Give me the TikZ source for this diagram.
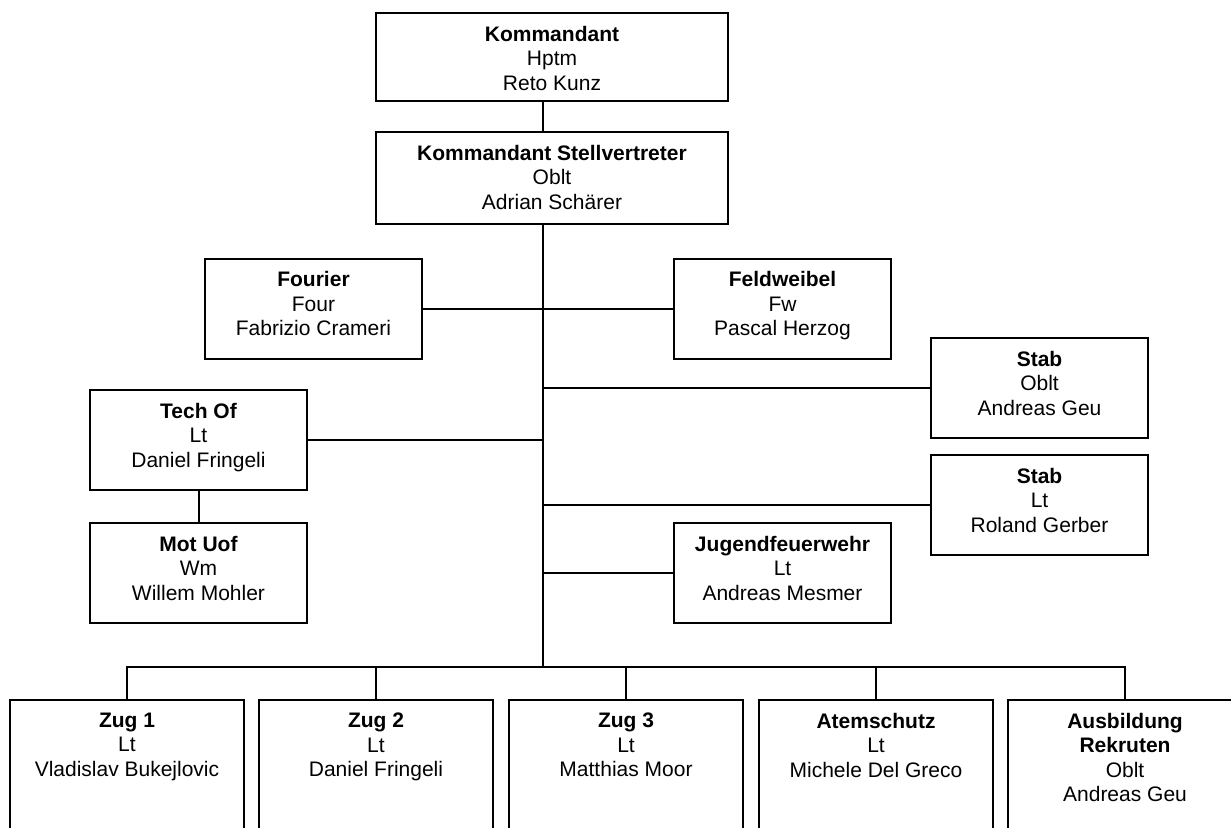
\documentclass[tikz,border=0pt]{standalone}
\usepackage{fontspec}
\setmainfont{Liberation Sans}
\usepackage{tikz}
\usetikzlibrary{positioning}
\tikzset{posten/.style = {draw, line width = 2pt, inner xsep = 0, inner ysep = 13pt,
                          anchor = north, font = \fontsize{21}{24.5}\selectfont}}
\tikzset{linie/.style = {line width = 2pt}}
\newcommand{\inhalt}[3]{\parbox[t][#1][t]{#2}{\centering #3}}

\begin{document}
\begin{tikzpicture}[x=1pt, y=-1pt]
      \useasboundingbox (0, 0) rectangle (1231, 827);
      \clip (0, 0) rectangle (1231, 827);

      \node [posten] (kdt) at (552, 12) {\inhalt{62pt}{352pt}{\textbf{Kommandant}\\Hptm\\Reto Kunz}};
      \node [posten] (stv) at (552, 131) {\inhalt{66pt}{352pt}{\textbf{Kommandant Stellvertreter}\\Oblt\\Adrian Schärer}};

      \node [posten] (fourier) at (313.5, 257.5) {\inhalt{74pt}{217pt}{\textbf{Fourier}\\Four\\Fabrizio Crameri}};
      \node [posten] (fw) at (782.5, 257.5) {\inhalt{74pt}{217pt}{\textbf{Feldweibel}\\Fw\\Pascal Herzog}};
      \node [posten] (stab1) at (1039.5, 337) {\inhalt{74pt}{217pt}{\textbf{Stab}\\Oblt\\Andreas Geu}};
      \node [posten] (techof) at (198.5, 389) {\inhalt{74pt}{217pt}{\textbf{Tech Of}\\Lt\\Daniel Fringeli}};
      \node [posten] (stab2) at (1039.5, 454) {\inhalt{74pt}{217pt}{\textbf{Stab}\\Lt\\Roland Gerber}};
      \node [posten] (motuof) at (198.5, 522) {\inhalt{74pt}{217pt}{\textbf{Mot Uof}\\Wm\\Willem Mohler}};
      \node [posten] (jfw) at (782.5, 522) {\inhalt{74pt}{217pt}{\textbf{Jugendfeuerwehr}\\Lt\\Andreas Mesmer}};

      % Zuege
      \node [posten] (zug1) at (127, 699) {\inhalt{150pt}{234pt}{\textbf{Zug 1}\\Lt\\Vladislav Bukejlovic}};
      \node [posten] (zug2) at (376, 699) {\inhalt{150pt}{234pt}{\textbf{Zug 2}\\Lt\\Daniel Fringeli}};
      \node [posten] (zug3) at (626, 699) {\inhalt{150pt}{234pt}{\textbf{Zug 3}\\Lt\\Matthias Moor}};
      \node [posten] (atem) at (876, 699) {\inhalt{150pt}{234pt}{\textbf{Atemschutz}\\Lt\\Michele Del Greco}};
      \node [posten] (ausb) at (1125, 699) {\inhalt{150pt}{234pt}{\textbf{Ausbildung}\\\textbf{Rekruten}\\Oblt\\Andreas Geu}};

      \coordinate (stamm) at (543, 667);

      \draw [linie] (kdt.south -| stamm) -- (stv.north -| stamm);
      \draw [linie] (stv.south -| stamm) -- (stamm);

      \draw [linie] (fourier.east) -- (fw.west);
      \draw [linie] (techof.east) -- (techof.east -| stamm);
      \draw [linie] (stab1.west -| stamm) -- (stab1.west);
      \draw [linie] (stab2.west -| stamm) -- (stab2.west);
      \draw [linie] (jfw.west -| stamm) -- (jfw.west);
      \draw [linie] (techof.south) -- (motuof.north);

      \draw [linie] (zug1.north) |- (stamm) -| (ausb.north);
      \foreach \z in {zug2, zug3, atem}{
        \draw [linie] (\z.north) -- (\z.north |- stamm);
      }
    \end{tikzpicture}
\end{document}
